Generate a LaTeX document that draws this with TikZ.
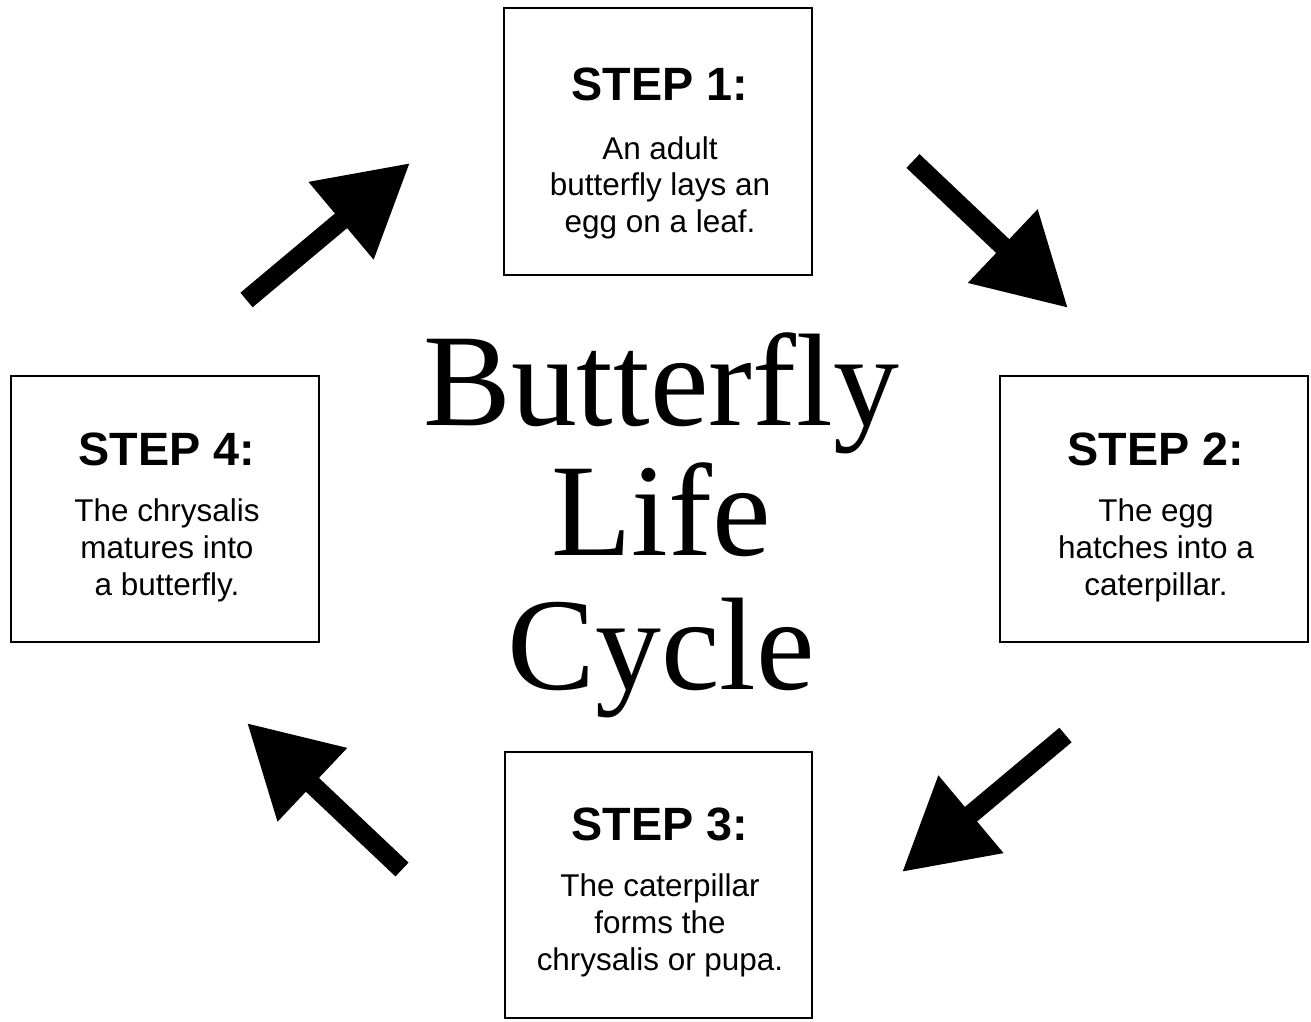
\documentclass[tikz,border=0pt]{standalone}
\usepackage{fontspec}
\newfontfamily\arialf{Liberation Sans}
\newfontfamily\serifttl{Liberation Serif}
\newcommand\mytitlefont{\serifttl\fontsize{75}{80}\selectfont}
\usetikzlibrary{arrows.meta,calc}
\begin{document}
\begin{tikzpicture}[x=0.02cm,y=-0.02cm,
  stepbox/.style={draw,line width=0.04cm,minimum width=6.16cm,minimum height=5.34cm,inner sep=0},
  headtxt/.style={anchor=base,inner sep=0,font=\arialf\bfseries\fontsize{26.6}{30}\selectfont},
  bodytxt/.style={anchor=base,inner sep=0,font=\arialf\fontsize{17.9}{21}\selectfont},
  titletxt/.style={anchor=base,inner sep=0,font=\mytitlefont},
  bigarrow/.style={line width=0.38cm,-{Triangle[length=1.8cm,width=1.92cm]}}]
\useasboundingbox (0,0) rectangle (1311,1021);

% boxes
\node[stepbox] (s1) at (658,141.5) {};
\node[stepbox] (s2) at (1154,509) {};
\node[stepbox] (s3) at (658.5,885) {};
\node[stepbox] (s4) at (165,509) {};

% step 1
\node[headtxt] (h1) at (660,100) {STEP 1:};
\node[bodytxt] (b1a) at (660,159) {An adult};
\node[bodytxt] (b1b) at (660,195.5) {butterfly lays an};
\node[bodytxt] (b1c) at (660,232) {egg on a leaf.};

% step 2
\node[headtxt] (h2) at (1156,465) {STEP 2:};
\node[bodytxt] (b2a) at (1156,521) {The egg};
\node[bodytxt] (b2b) at (1156,558) {hatches into a};
\node[bodytxt] (b2c) at (1156,595) {caterpillar.};

% step 3
\node[headtxt] (h3) at (660,840) {STEP 3:};
\node[bodytxt] (b3a) at (660,896) {The caterpillar};
\node[bodytxt] (b3b) at (660,933) {forms the};
\node[bodytxt] (b3c) at (660,970) {chrysalis or pupa.};

% step 4
\node[headtxt] (h4) at (167,465) {STEP 4:};
\node[bodytxt] (b4a) at (167,521) {The chrysalis};
\node[bodytxt] (b4b) at (167,558) {matures into};
\node[bodytxt] (b4c) at (167,595) {a butterfly.};

% title
\node[titletxt] (t1) at (661,425) {Butterfly};
\node[titletxt] (t2) at (661,555) {Life};
\node[titletxt] (t3) at (661,689) {Cycle};

% arrows
\coordinate (a1s) at (246.5,300);
\coordinate (a1e) at (410,163);
\coordinate (a2s) at (913,161);
\coordinate (a2e) at (1068,308);
\coordinate (a3s) at (1065.5,735);
\coordinate (a3e) at (902,872);
\coordinate (a4s) at (402,869.5);
\coordinate (a4e) at (247,723);
\draw[bigarrow] (a1s) -- (a1e);
\draw[bigarrow] (a2s) -- (a2e);
\draw[bigarrow] (a3s) -- (a3e);
\draw[bigarrow] (a4s) -- (a4e);
\end{tikzpicture}
\end{document}
